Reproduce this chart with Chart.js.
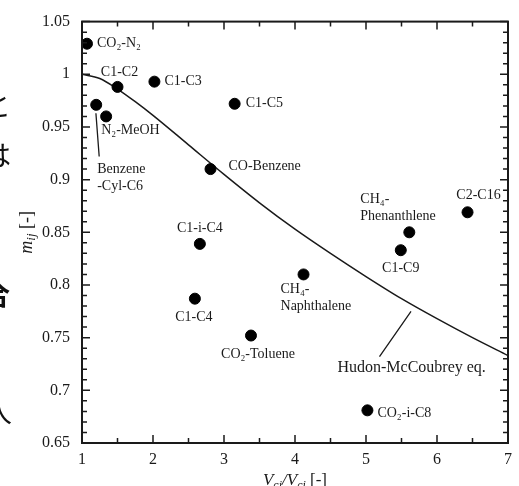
<!DOCTYPE html>
<html>
<head>
<meta charset="utf-8">
<script src="https://cdn.jsdelivr.net/npm/chart.js@4.4.1/dist/chart.umd.min.js"></script>
<style>
  body { margin: 0; background: #fff; overflow: hidden; }
  #wrap { position: relative; width: 519px; height: 486px; overflow: hidden; }
  .jp { position: absolute; font-family: "Noto Sans CJK JP"; font-size: 28px; line-height: 1; color: #111; }
</style>
</head>
<body>
<div id="wrap">
  <canvas id="chart"></canvas>
  <span class="jp" style="left:-17px; top:90px;">と</span>
  <span class="jp" style="left:-17px; top:140px;">は</span>
  <span class="jp" style="left:-18px; top:279px; font-weight:bold;">合</span>
  <span class="jp" style="left:-16px; top:396px;">入</span>
</div>
<script>
// measured pairs
const pairNames = ['CO₂-N₂', 'C1-C2', 'Benzene\n-Cyl-C6', 'N₂-MeOH', 'C1-C3', 'C1-C5', 'CO-Benzene',
  'C2-C16', 'CH₄-\nPhenanthlene', 'C1-C9', 'C1-i-C4', 'CH₄-\nNaphthalene', 'C1-C4', 'CO₂-Toluene', 'CO₂-i-C8'];
const volumeRatio = [1.07, 1.50, 1.20, 1.34, 2.02, 3.15, 2.81, 6.43, 5.61, 5.49, 2.66, 4.12, 2.59, 3.38, 5.02];
const mij = [1.029, 0.988, 0.971, 0.960, 0.993, 0.972, 0.910, 0.869, 0.850, 0.833, 0.839, 0.810, 0.787, 0.752, 0.681];

// Hudon-McCoubrey curve
const curveRatio = [1, 1.25, 1.5, 1.75, 2, 2.5, 3, 3.5, 4, 4.5, 5, 5.5, 6, 6.5, 7];
const curveM = [1.000, 0.996, 0.986, 0.974, 0.961, 0.933, 0.905, 0.878, 0.853, 0.830, 0.808, 0.787, 0.768, 0.750, 0.733];

// axis ticks
const xTicks = [1, 2, 3, 4, 5, 6, 7];
const yTicks = [0.65, 0.7, 0.75, 0.8, 0.85, 0.9, 0.95, 1, 1.05];

// label offsets from each dot in px: [dx, dy, align]
const labelPlace = [
  [10, 0, 'left'], [2, -15, 'center'], [1, 65, 'left'], [-5, 14, 'left'], [10, 0, 'left'],
  [11, 0, 'left'], [18, -3, 'left'], [11, -17, 'center'], [-49, -33, 'left'], [0, 18, 'center'],
  [0, -16, 'center'], [-23, 15, 'left'], [-1, 19, 'center'], [7, 19, 'center'], [10, 3, 'left']
];

const SERIF = '"Liberation Serif", "Times New Roman", serif';
const INK = '#1a1a1a';

function drawRich(ctx, parts, x, y, size) {
  // parts: [text, italic, sub]
  const fontOf = p => (p[1] ? 'italic ' : '') + (p[2] ? Math.round(size * 0.7) : size) + 'px ' + SERIF;
  let total = 0;
  parts.forEach(p => { ctx.font = fontOf(p); total += ctx.measureText(p[0]).width; });
  let cx = x - total / 2;
  ctx.textAlign = 'left';
  ctx.textBaseline = 'middle';
  parts.forEach(p => {
    ctx.font = fontOf(p);
    ctx.fillText(p[0], cx, y + (p[2] ? size * 0.28 : 0));
    cx += ctx.measureText(p[0]).width;
  });
}

const frameAndNotes = {
  id: 'frameAndNotes',
  afterDatasetsDraw(chart) {
    const { ctx, chartArea: a, scales: { x, y } } = chart;
    ctx.save();
    ctx.strokeStyle = INK;
    ctx.fillStyle = INK;

    // inward ticks on all four sides
    ctx.lineWidth = 1.5;
    ctx.beginPath();
    for (let v = 1; v <= 7.001; v += 0.5) {
      const px = x.getPixelForValue(v);
      const len = Math.abs(v - Math.round(v)) < 1e-6 ? 8 : 5;
      ctx.moveTo(px, a.bottom); ctx.lineTo(px, a.bottom - len);
      ctx.moveTo(px, a.top); ctx.lineTo(px, a.top + len);
    }
    for (let i = 0; i <= 40; i++) {
      const v = 0.65 + i * 0.01;
      const py = y.getPixelForValue(v);
      const len = i % 5 === 0 ? 8 : 5;
      ctx.moveTo(a.left, py); ctx.lineTo(a.left + len, py);
      ctx.moveTo(a.right, py); ctx.lineTo(a.right - len, py);
    }
    ctx.stroke();

    // frame
    ctx.lineWidth = 2;
    ctx.strokeRect(a.left, a.top, a.right - a.left, a.bottom - a.top);

    // leader lines
    ctx.lineWidth = 1.3;
    ctx.beginPath();
    ctx.moveTo(x.getPixelForValue(1.196), y.getPixelForValue(0.963));
    ctx.lineTo(x.getPixelForValue(1.242), y.getPixelForValue(0.922));
    ctx.moveTo(x.getPixelForValue(5.634), y.getPixelForValue(0.775));
    ctx.lineTo(x.getPixelForValue(5.19), y.getPixelForValue(0.732));
    ctx.stroke();

    // point labels
    ctx.font = '14px ' + SERIF;
    ctx.textBaseline = 'middle';
    pairNames.forEach((name, i) => {
      const [dx, dy, align] = labelPlace[i];
      const px = x.getPixelForValue(volumeRatio[i]) + dx;
      const py = y.getPixelForValue(mij[i]) + dy;
      ctx.textAlign = align;
      name.split('\n').forEach((line, k) => ctx.fillText(line, px, py + k * 17));
    });

    // curve label
    ctx.font = '16px ' + SERIF;
    ctx.textAlign = 'center';
    ctx.fillText('Hudon-McCoubrey eq.', x.getPixelForValue(5.643), y.getPixelForValue(0.721));

    // axis titles
    drawRich(ctx, [['V', true], ['ci', true, true], ['/V', true], ['ci', true, true], [' [-]', false]],
      (a.left + a.right) / 2, 481, 17);
    ctx.translate(27, (a.top + a.bottom) / 2);
    ctx.rotate(-Math.PI / 2);
    drawRich(ctx, [['m', true], ['ij', true, true], [' [-]', false]], 0, 0, 18);
    ctx.restore();
  }
};

new Chart(document.getElementById('chart'), {
  type: 'scatter',
  data: {
    datasets: [
      {
        data: volumeRatio.map((v, i) => ({ x: v, y: mij[i] })),
        backgroundColor: '#000',
        borderColor: '#000',
        pointRadius: 5.5,
        order: 0
      },
      {
        data: curveRatio.map((v, i) => ({ x: v, y: curveM[i] })),
        showLine: true,
        borderColor: INK,
        borderWidth: 1.5,
        pointRadius: 0,
        cubicInterpolationMode: 'monotone',
        order: 1
      }
    ]
  },
  options: {
    responsive: true,
    maintainAspectRatio: false,
    animation: false,
    events: [],
    layout: { padding: { top: 18, right: 8, left: 0, bottom: 0 } },
    plugins: { legend: { display: false }, tooltip: { enabled: false } },
    scales: {
      x: {
        type: 'linear', min: 1, max: 7,
        afterBuildTicks: s => { s.ticks = xTicks.map(v => ({ value: v })); },
        afterFit: s => { s.height = 43; },
        grid: { display: false, drawTicks: false },
        border: { display: false },
        ticks: { padding: 7, color: INK, font: { family: SERIF, size: 16 }, callback: v => String(v) }
      },
      y: {
        min: 0.65, max: 1.05,
        afterBuildTicks: s => { s.ticks = yTicks.map(v => ({ value: v })); },
        afterFit: s => { s.width = 82; },
        grid: { display: false, drawTicks: false },
        border: { display: false },
        ticks: { padding: 12, color: INK, font: { family: SERIF, size: 16 }, callback: v => String(v) }
      }
    }
  },
  plugins: [frameAndNotes]
});
</script>
</body>
</html>
